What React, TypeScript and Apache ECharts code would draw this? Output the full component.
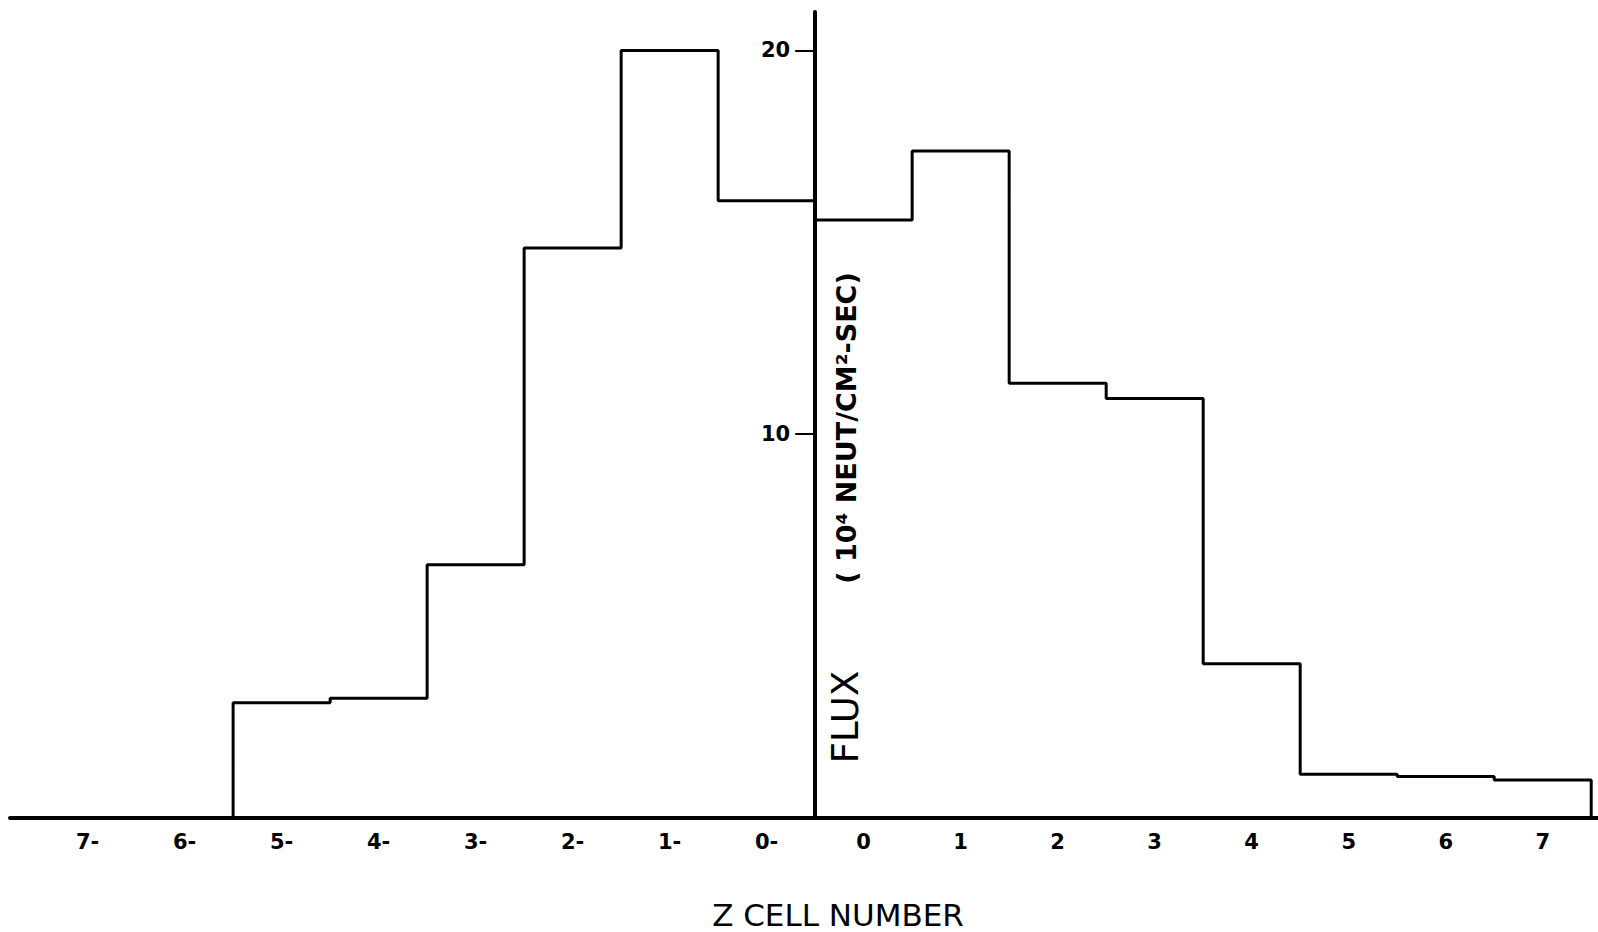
import React, { useEffect, useRef } from "react";
import * as echarts from "echarts";

// Z cells, left to right
const cellLabels = ["7-", "6-", "5-", "4-", "3-", "2-", "1-", "0-", "0", "1", "2", "3", "4", "5", "6", "7"];
// Flux per cell (10^4 neut/cm^2-sec)
const fluxValues = [0, 0, 3.0, 3.12, 6.6, 14.85, 20.0, 16.08, 15.58, 17.38, 11.33, 10.93, 4.02, 1.14, 1.08, 0.99];
// Y tick values shown
const yTickValues = [10, 20];

const xTitle = "Z CELL NUMBER";
const yTitleMain = "FLUX";
const yTitleUnit = "( 10\u2074 NEUT/CM\u00B2-SEC)";

const X_MIN = -8.3;
const X_MAX = 8.07;
const GRID_LEFT = 10;
const GRID_RIGHT = 0;
const WIDTH = 1598;

export default function App() {
  const ref = useRef<HTMLDivElement>(null);

  useEffect(() => {
    if (!ref.current) return;
    const chart = echarts.init(ref.current, null, { renderer: "svg" });

    const half = cellLabels.length / 2;
    const stepPoints: number[][] = fluxValues.map((v, i) => [i - half, v]);
    stepPoints.push([half, fluxValues[fluxValues.length - 1]]);
    stepPoints.push([half, 0]);
    const labelCenters = cellLabels.map((_, i) => i - half + 0.5);

    // place the y axis at x = 0 of the value x-axis
    const plotW = WIDTH - GRID_LEFT - GRID_RIGHT;
    const zeroOffset = ((0 - X_MIN) / (X_MAX - X_MIN)) * plotW;

    chart.setOption({
      animation: false,
      backgroundColor: "#ffffff",
      grid: {
        left: GRID_LEFT,
        right: GRID_RIGHT,
        top: 12,
        bottom: 114,
        containLabel: false,
        outerBoundsMode: "none",
      },
      xAxis: {
        type: "value",
        min: X_MIN,
        max: X_MAX,
        axisLine: { show: true, onZero: true, lineStyle: { color: "#000", width: 4 } },
        axisTick: { show: false },
        splitLine: { show: false },
        axisLabel: {
          customValues: labelCenters,
          formatter: (v: number) => {
            const idx = Math.round(v + half - 0.5);
            return cellLabels[idx] ?? "";
          },
          color: "#000",
          fontFamily: "DejaVu Sans",
          fontWeight: "bold",
          fontSize: 21,
          margin: 13,
        },
        name: xTitle,
        nameLocation: "middle",
        nameGap: 81,
        nameTextStyle: {
          color: "#000",
          fontFamily: "DejaVu Sans",
          fontSize: 31,
          padding: [0, 0, 0, 68],
        },
      },
      yAxis: {
        type: "value",
        min: 0,
        max: 21,
        interval: 10,
        offset: -zeroOffset,
        axisLine: { show: true, onZero: false, lineStyle: { color: "#000", width: 4 } },
        axisTick: {
          show: true,
          customValues: yTickValues,
          length: 20,
          lineStyle: { color: "#000", width: 2 },
        },
        splitLine: { show: false },
        axisLabel: {
          customValues: yTickValues,
          color: "#000",
          fontFamily: "DejaVu Sans",
          fontWeight: "bold",
          fontSize: 21,
          margin: 25,
        },
      },
      series: [
        {
          type: "line",
          step: "end",
          data: stepPoints,
          symbol: "none",
          lineStyle: { color: "#000", width: 3 },
          z: 5,
        },
      ],
      graphic: [
        {
          type: "text",
          x: 845,
          y: 717,
          rotation: Math.PI / 2,
          style: {
            text: yTitleMain,
            fontFamily: "DejaVu Sans",
            fontSize: 37,
            fill: "#000",
            align: "center",
            verticalAlign: "middle",
            textAlign: "center",
            textVerticalAlign: "middle",
          },
        },
        {
          type: "text",
          x: 846,
          y: 428,
          rotation: Math.PI / 2,
          style: {
            text: yTitleUnit,
            fontFamily: "DejaVu Sans",
            fontWeight: "bold",
            fontSize: 27,
            fill: "#000",
            align: "center",
            verticalAlign: "middle",
            textAlign: "center",
            textVerticalAlign: "middle",
          },
        },
      ],
    });

    return () => chart.dispose();
  }, []);

  return (
    <div
      ref={ref}
      style={{ position: "absolute", left: 0, top: 0, width: WIDTH, height: 932, background: "#fff" }}
    />
  );
}
